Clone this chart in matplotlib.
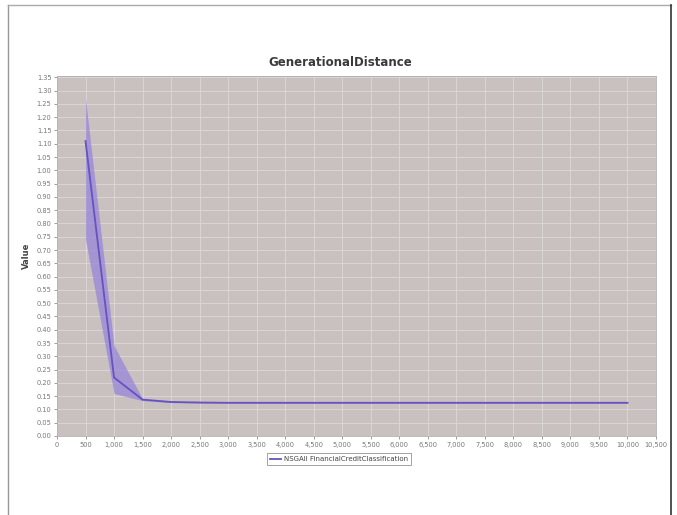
import matplotlib.pyplot as plt
import matplotlib.ticker as mticker
from matplotlib.lines import Line2D

# evaluations
evaluations = [500, 1000, 1500, 2000, 2500, 3000, 3500, 4000, 4500, 5000,
               5500, 6000, 6500, 7000, 7500, 8000, 8500, 9000, 9500, 10000]
mean_gd = [1.11, 0.22, 0.137, 0.128, 0.126, 0.125, 0.125, 0.125, 0.125, 0.125,
           0.125, 0.125, 0.125, 0.125, 0.125, 0.125, 0.125, 0.125, 0.125, 0.125]
upper_gd = [1.27, 0.34, 0.14, 0.130, 0.127, 0.126, 0.126, 0.126, 0.126, 0.126,
            0.126, 0.126, 0.126, 0.126, 0.126, 0.126, 0.126, 0.126, 0.126, 0.126]
lower_gd = [0.74, 0.16, 0.133, 0.126, 0.124, 0.124, 0.124, 0.124, 0.124, 0.124,
            0.124, 0.124, 0.124, 0.124, 0.124, 0.124, 0.124, 0.124, 0.124, 0.124]
series_name = "NSGAII FinancialCreditClassification"

W, H = 677, 515
fig = plt.figure(figsize=(W / 100, H / 100), dpi=100)
fig.patch.set_facecolor("white")

ax = fig.add_axes([57 / W, 1 - 436 / H, (656 - 57) / W, (436 - 76) / H])
ax.set_facecolor("#c8c1c0")

ax.fill_between(evaluations, lower_gd, upper_gd, color="#9886d8", alpha=0.75, lw=0)
line, = ax.plot(evaluations, mean_gd, color="#6652c0", lw=1.3)

ax.set_xlim(0, 10500)
ax.set_ylim(0, 1.355)
ax.xaxis.set_major_locator(mticker.MultipleLocator(500))
ax.yaxis.set_major_locator(mticker.MultipleLocator(0.05))
ax.xaxis.set_major_formatter(mticker.FuncFormatter(lambda v, p: f"{int(v):,}"))
ax.yaxis.set_major_formatter(mticker.FormatStrFormatter("%.2f"))
ax.grid(True, color="#dedad9", lw=0.6)
ax.set_axisbelow(True)
ax.tick_params(labelsize=4.8, colors="#777777", length=2, width=0.5, pad=2)
for s in ax.spines.values():
    s.set_color("#b0b0b0")
    s.set_linewidth(0.6)

fig.text(340 / W, 1 - 63 / H, "GenerationalDistance", fontsize=8.5, fontweight="bold",
         color="#3a3a3a", ha="center", va="center")
ax.set_ylabel("Value", fontsize=6, fontweight="bold", color="#444444", labelpad=4)

leg = ax.legend([line], [series_name], loc="center", bbox_to_anchor=(339 / W, 1 - 459 / H),
                bbox_transform=fig.transFigure, fontsize=5, frameon=True,
                fancybox=False, handlelength=1.6, borderpad=0.4, handletextpad=0.4)
leg.get_frame().set_edgecolor("#777777")
leg.get_frame().set_linewidth(0.6)
for t in leg.get_texts():
    t.set_color("#444444")

# page border
fig.add_artist(Line2D([8 / W, 8 / W], [0, 1 - 5 / H], transform=fig.transFigure,
                      color="#999999", lw=1))
fig.add_artist(Line2D([8 / W, 671 / W], [1 - 5 / H, 1 - 5 / H], transform=fig.transFigure,
                      color="#aaaaaa", lw=1))
fig.add_artist(Line2D([671 / W, 671 / W], [0, 1 - 5 / H], transform=fig.transFigure,
                      color="#333333", lw=1.2))

fig.savefig("out.png", dpi=100)
